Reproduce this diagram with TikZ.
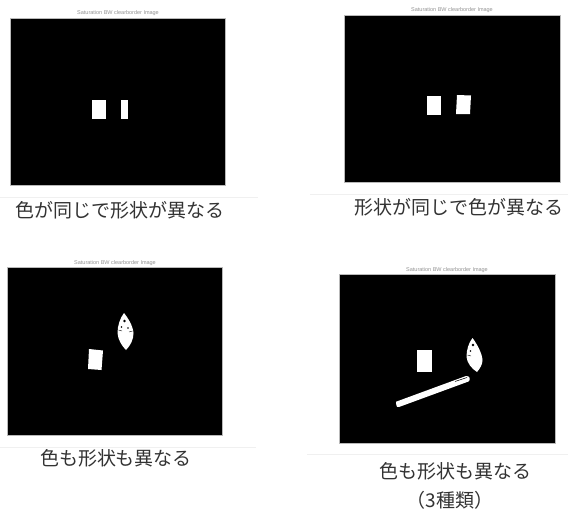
\documentclass[tikz,border=0pt]{standalone}
\usepackage{fontspec}
\setmainfont{Liberation Serif}
\newfontfamily\jpfont{Noto Sans CJK JP}
\newfontfamily\ttlfont{Liberation Sans}
\begin{document}
\begin{tikzpicture}[x=1pt,y=-1pt,
  ttltext/.style={font=\ttlfont\fontsize{5.5}{6}\selectfont, text=gray!85, inner sep=0pt},
  captext/.style={font=\jpfont\fontsize{19}{22}\selectfont, text=black!80, inner sep=0pt},
  frame/.style={fill=black, draw=gray!55, line width=0.7pt},
  sepline/.style={draw=gray!12, line width=0.8pt},
  blob/.style={fill=white}]
\useasboundingbox (0,0) rectangle (568,511);
\fill[white] (0,0) rectangle (568,511);

% ---------- panel 1 ----------
\draw[frame] (10,18) rectangle (225,185);
\node[ttltext] (t1) at (118,13) {Saturation BW clearborder Image};
\fill[blob] (92,100) rectangle (106,119);
\fill[blob] (121,100) rectangle (128,119);
\draw[sepline] (0,197) -- (258,197);
\node[captext] (c1) at (120,210) {色が同じで形状が異なる};

% ---------- panel 2 ----------
\draw[frame] (344,15) rectangle (560,182);
\node[ttltext] (t2) at (452,10) {Saturation BW clearborder Image};
\fill[blob] (427,96) -- (441,96) -- (441,115) -- (427,115) -- cycle;
\fill[blob] (457,95) -- (471,95.5) -- (470,114) -- (456,114) -- cycle;
\draw[sepline] (310,194) -- (568,194);
\node[captext] (c2) at (459,207) {形状が同じで色が異なる};

% ---------- panel 3 ----------
\draw[frame] (7,267) rectangle (222,435);
\node[ttltext] (t3) at (115,263) {Saturation BW clearborder Image};
\fill[blob] (89,349) -- (103,350.5) -- (101.5,370) -- (88,369) -- cycle;
\fill[blob] (124,313) .. controls (120,318) and (117.5,326) .. (117.5,333)
  .. controls (118,340) and (122,346) .. (126,350)
  .. controls (131,345) and (133.5,339) .. (133.5,333)
  .. controls (133,326) and (128,318) .. (124,313) -- cycle;
\fill[black] (124.5,321) circle (1.4);
\fill[black] (121.5,327) circle (0.8);
\fill[black] (128,328) circle (0.8);
\draw[black, line width=0.4pt] (118.5,330) -- (122,331);
\draw[black, line width=0.4pt] (132.5,331) -- (129,332);

% ---------- panel 3 caption ----------
\draw[sepline] (0,447) -- (256,447);
\node[captext] (c3) at (116,458) {色も形状も異なる};

% ---------- panel 4 ----------
\draw[frame] (339,274) rectangle (555,443);
\node[ttltext] (t4) at (447,270) {Saturation BW clearborder Image};
\fill[blob] (417,350) -- (432,350) -- (432,372) -- (417,372) -- cycle;
\fill[blob] (472.5,338) .. controls (468.5,343) and (466.5,350) .. (466.5,357)
  .. controls (467,363) and (472,369) .. (477,372)
  .. controls (480.5,368) and (482.5,364) .. (482.5,360)
  .. controls (482,353) and (477,344) .. (472.5,338) -- cycle;
\fill[black] (473,345) circle (1.3);
\fill[black] (470.5,351) circle (0.8);
\draw[black, line width=0.4pt] (467.5,355) -- (471,356);
\fill[blob] (396,403.5) .. controls (396,401.5) .. (398,401) -- (466,376)
  .. controls (470,375.5) and (471,380) .. (468.5,381.5) -- (399,407)
  .. controls (397,407.5) .. (396,403.5) -- cycle;
\draw[black, line width=0.5pt] (455,381.5) -- (467,377.5);
\draw[sepline] (307,454) -- (568,454);
\node[captext] (c4) at (455.5,471) {色も形状も異なる};
\node[captext] (c5) at (450,500) {（3種類）};
\end{tikzpicture}
\end{document}
